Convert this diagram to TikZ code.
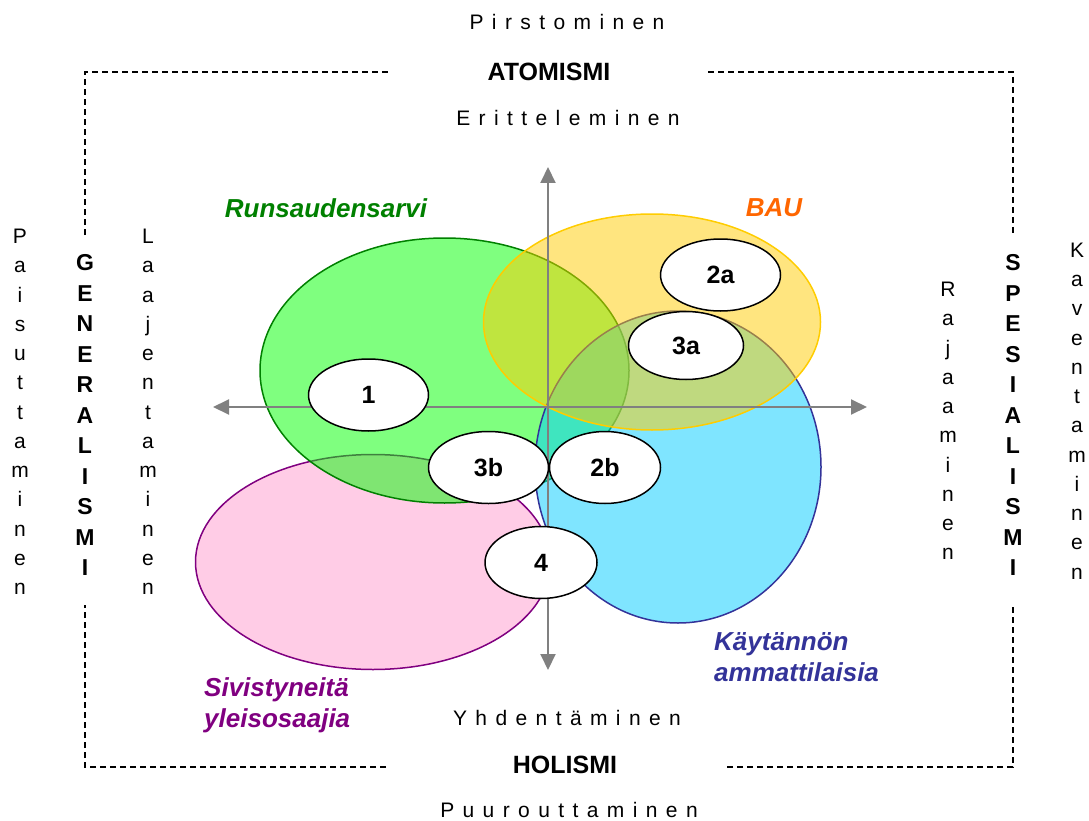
\documentclass[tikz,border=0pt]{standalone}
\usepackage{fontspec}
\setmainfont{Liberation Sans}
\newfontfamily\spacedfont[LetterSpace=40]{Liberation Sans}
\usetikzlibrary{shapes.geometric,arrows.meta}
\definecolor{pinkfill}{HTML}{FFCCE6}
\definecolor{pinkline}{HTML}{800080}
\definecolor{greenfill}{HTML}{00FF00}
\definecolor{greenline}{HTML}{008000}
\definecolor{bluefill}{HTML}{00CCFF}
\definecolor{blueline}{HTML}{333399}
\definecolor{yellowfill}{HTML}{FFCC00}
\definecolor{bautext}{HTML}{FF6600}
\definecolor{axisgray}{HTML}{808080}
\begin{document}
\begin{tikzpicture}[x=1pt,y=-1pt,
  frame/.style={draw=black,line width=1.3pt,dash pattern=on 6pt off 4pt},
  spaced/.style={font=\spacedfont\fontsize{21}{25}\selectfont},
  title/.style={font=\bfseries\fontsize{25}{30}\selectfont},
  vletters/.style={align=center,inner sep=0pt,font=\fontsize{21}{29.25}\selectfont},
  vbold/.style={align=center,inner sep=0pt,font=\bfseries\fontsize{23}{30.5}\selectfont},
  big/.style={ellipse,inner sep=0pt,line width=1.5pt},
  small/.style={ellipse,inner sep=0pt,draw=black,fill=white,line width=1.5pt,
     font=\bfseries\fontsize{25}{30}\selectfont},
  grouplabel/.style={font=\bfseries\itshape\fontsize{26}{31}\selectfont,align=left,inner sep=0pt},
  axis/.style={draw=axisgray,line width=2pt,{Triangle[length=16pt,width=15pt]}-{Triangle[length=16pt,width=15pt]}}
]
\useasboundingbox (0,0) rectangle (1089,821);

% frame
\coordinate (tl) at (85,72);
\coordinate (tr) at (1013,72);
\coordinate (bl) at (85,767);
\coordinate (br) at (1013,767);
\coordinate (tgl) at (389,72);
\coordinate (tgr) at (708,72);
\coordinate (bgl) at (386,767);
\coordinate (bgr) at (726,767);
\coordinate (lgt) at (85,235);
\coordinate (lgb) at (85,605);
\coordinate (rgt) at (1013,233);
\coordinate (rgb) at (1013,607);
\draw[frame] (lgt) -- (tl) -- (tgl);
\draw[frame] (tgr) -- (tr) -- (rgt);
\draw[frame] (rgb) -- (br) -- (bgr);
\draw[frame] (bgl) -- (bl) -- (lgb);

% top / bottom texts
\node[spaced] (pirst) at (567,22) {Pirstominen};
\node[title] (atom) at (549,72) {ATOMISMI};
\node[spaced] (erit) at (568,118) {Eritteleminen};
\node[spaced] (yhd) at (567,718) {Yhdentäminen};
\node[title] (hol) at (565,765) {HOLISMI};
\node[spaced] (puur) at (569,810) {Puurouttaminen};

% side texts
\node[vletters] (pais) at (20,412) {P\\a\\i\\s\\u\\t\\t\\a\\m\\i\\n\\e\\n};
\node[vbold] (gen) at (85,415) {G\\E\\N\\E\\R\\A\\L\\I\\S\\M\\I};
\node[vletters] (laaj) at (148,412) {L\\a\\a\\j\\e\\n\\t\\a\\m\\i\\n\\e\\n};
\node[vletters] (raja) at (948,421) {R\\a\\j\\a\\a\\m\\i\\n\\e\\n};
\node[vbold] (spes) at (1013,415) {S\\P\\E\\S\\I\\A\\L\\I\\S\\M\\I};
\node[vletters] (kave) at (1077,411) {K\\a\\v\\e\\n\\t\\a\\m\\i\\n\\e\\n};

% big ellipses
\node[big,minimum width=355pt,minimum height=215pt,fill=pinkfill,draw=pinkline] (pink) at (373,562) {};
\node[big,minimum width=369pt,minimum height=265pt,fill=greenfill,fill opacity=0.5,draw=greenline] (green) at (444.5,370.5) {};
\node[big,minimum width=286pt,minimum height=312pt,fill=bluefill,fill opacity=0.5,draw=blueline] (blue) at (678,467) {};
\node[big,minimum width=337pt,minimum height=216pt,fill=yellowfill,fill opacity=0.5,draw=yellowfill] (yellow) at (652,322) {};

% axes
\coordinate (axl) at (213,407);
\coordinate (axr) at (867,407);
\coordinate (axt) at (548,167);
\coordinate (axb) at (548,670);
\draw[axis] (axl) -- (axr);
\draw[axis] (axt) -- (axb);

% small ellipses
\node[small,minimum width=120pt,minimum height=72pt] (n1) at (368.5,395) {1};
\node[small,minimum width=120pt,minimum height=72pt] (n2a) at (720.5,275) {2a};
\node[small,minimum width=115pt,minimum height=68pt] (n3a) at (686,345.5) {3a};
\node[small,minimum width=120pt,minimum height=72pt] (n3b) at (488.5,467.5) {3b};
\node[small,minimum width=111pt,minimum height=72pt] (n2b) at (605,467.5) {2b};
\node[small,minimum width=112pt,minimum height=72pt] (n4) at (541,562.5) {4};

% group labels
\node[grouplabel,text=greenline] (lrun) at (326,208) {Runsaudensarvi};
\node[grouplabel,text=bautext] (lbau) at (774,208) {BAU};
\node[grouplabel,text=blueline,anchor=west] (lkay) at (714,657) {Käytännön\\ammattilaisia};
\node[grouplabel,text=pinkline,anchor=west] (lsiv) at (204,705) {Sivistyneitä\\yleisosaajia};
\end{tikzpicture}
\end{document}
